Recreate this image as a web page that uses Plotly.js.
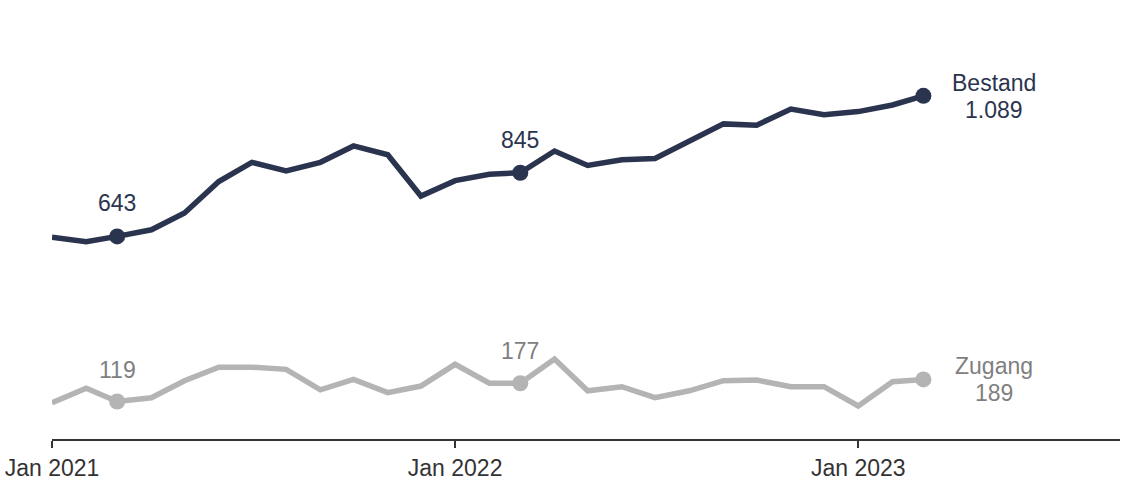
<!DOCTYPE html>
<html>
<head>
<meta charset="utf-8">
<script src="https://cdn.plot.ly/plotly-3.0.1.min.js"></script>
<style>html,body{margin:0;padding:0;background:#fff;}#chart{width:1122px;height:490px;}</style>
</head>
<body>
<div id="chart"></div>
<script>
const months = ["2021-01-01","2021-02-01","2021-03-01","2021-04-01","2021-05-01","2021-06-01","2021-07-01","2021-08-01","2021-09-01","2021-10-01","2021-11-01","2021-12-01",
"2022-01-01","2022-02-01","2022-03-01","2022-04-01","2022-05-01","2022-06-01","2022-07-01","2022-08-01","2022-09-01","2022-10-01","2022-11-01","2022-12-01",
"2023-01-01","2023-02-01","2023-03-01"];
const bestand = [640,626,643,664,717,817,878,851,878,930,902,771,820,840,845,914,868,886,890,944,1000,996,1047,1029,1039,1060,1089];
const zugang = [115,161,119,131,185,228,228,221,156,189,147,168,237,177,177,254,153,166,131,153,185,187,166,166,105,182,189];
const seriesNames = ["Bestand","Zugang"];
const highlightIdx = [2,14];
const lastIdx = months.length - 1;
const tickVals = ["2021-01-01","2022-01-01","2023-01-01"];
const tickText = ["Jan 2021","Jan 2022","Jan 2023"];

const navy = "#2b344f";
const gray = "#b4b4b4";
const grayText = "#7f7f7f";
const font = "Liberation Sans, Arial, sans-serif";
const fs = 23;

function fmt(v){ return v.toLocaleString("de-DE"); }

const markIdx = highlightIdx.concat([lastIdx]);
const traces = [
  {x: months, y: bestand, mode: "lines", line: {color: navy, width: 5.5}, hoverinfo: "skip"},
  {x: markIdx.map(i=>months[i]), y: markIdx.map(i=>bestand[i]), mode: "markers", marker: {color: navy, size: 16}, hoverinfo: "skip"},
  {x: months, y: zugang, mode: "lines", line: {color: gray, width: 5.5}, hoverinfo: "skip"},
  {x: markIdx.map(i=>months[i]), y: markIdx.map(i=>zugang[i]), mode: "markers", marker: {color: gray, size: 16}, hoverinfo: "skip"}
];

const annotations = [];
highlightIdx.forEach(i=>{
  annotations.push({x: months[i], y: bestand[i], text: fmt(bestand[i]), showarrow: false, yanchor: "middle", yshift: 33, font: {family: font, size: fs, color: navy}});
  annotations.push({x: months[i], y: zugang[i], text: fmt(zugang[i]), showarrow: false, yanchor: "middle", yshift: 32, font: {family: font, size: fs, color: grayText}});
});
const endSeries = [[seriesNames[0], bestand, navy], [seriesNames[1], zugang, grayText]];
endSeries.forEach(([name, vals, col])=>{
  annotations.push({x: months[lastIdx], y: vals[lastIdx], text: name, showarrow: false, xanchor: "center", yanchor: "middle", xshift: 71, yshift: 13, font: {family: font, size: fs, color: col}});
  annotations.push({x: months[lastIdx], y: vals[lastIdx], text: fmt(vals[lastIdx]), showarrow: false, xanchor: "center", yanchor: "middle", xshift: 71, yshift: -14, font: {family: font, size: fs, color: col}});
});

const layout = {
  width: 1122, height: 490,
  margin: {l: 52, r: 2, t: 30, b: 51},
  paper_bgcolor: "#fff", plot_bgcolor: "#fff",
  showlegend: false,
  font: {family: font, size: fs, color: "#333"},
  xaxis: {
    type: "date", range: ["2021-01-01", "2023-08-26"],
    tickvals: tickVals, ticktext: tickText,
    showgrid: false, zeroline: false,
    showline: true, linecolor: "#333", linewidth: 2,
    ticks: "outside", ticklen: 7, tickwidth: 2, tickcolor: "#333",
    tickfont: {family: font, size: fs, color: "#333"}
  },
  yaxis: {range: [0, 1298], visible: false, showgrid: false, zeroline: false},
  annotations: annotations
};

Plotly.newPlot("chart", traces, layout, {displayModeBar: false, staticPlot: true});
</script>
</body>
</html>
